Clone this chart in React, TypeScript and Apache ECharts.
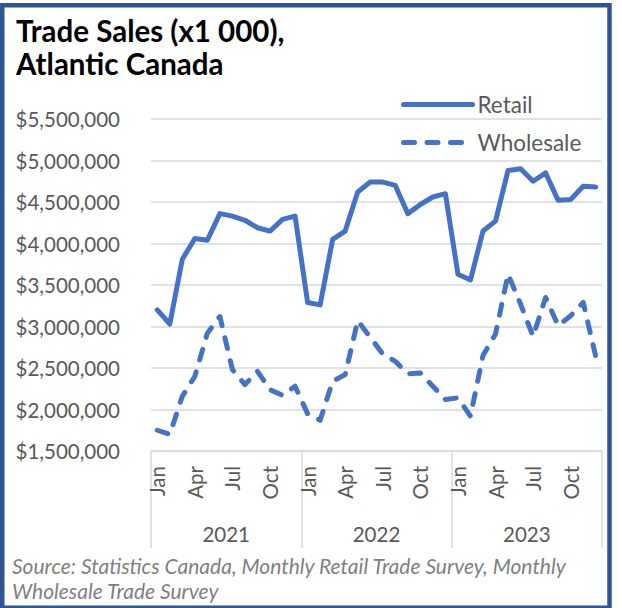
import React, { useEffect, useRef } from "react";
import * as echarts from "echarts";

const years = ["2021", "2022", "2023"];
const monthNames = ["Jan", "Feb", "Mar", "Apr", "May", "Jun", "Jul", "Aug", "Sep", "Oct", "Nov", "Dec"];
const retail = [
  3200000, 3030000, 3810000, 4060000, 4040000, 4360000, 4330000, 4280000, 4190000, 4150000, 4290000, 4330000,
  3290000, 3260000, 4050000, 4150000, 4620000, 4740000, 4740000, 4700000, 4360000, 4470000, 4560000, 4600000,
  3630000, 3560000, 4150000, 4270000, 4880000, 4900000, 4750000, 4850000, 4520000, 4530000, 4690000, 4680000,
];
const wholesale = [
  1750000, 1700000, 2160000, 2400000, 2920000, 3120000, 2480000, 2300000, 2460000, 2240000, 2170000, 2280000,
  1950000, 1870000, 2340000, 2420000, 3070000, 2870000, 2670000, 2580000, 2430000, 2440000, 2280000, 2120000,
  2140000, 1920000, 2650000, 2910000, 3630000, 3270000, 2880000, 3350000, 3010000, 3130000, 3290000, 2640000,
];
const yMin = 1500000;
const yMax = 5500000;
const yStep = 500000;
const titleText = "Trade Sales (x1 000),\nAtlantic Canada";
const sourceText = "Source: Statistics Canada, Monthly Retail Trade Survey, Monthly\nWholesale Trade Survey";

const months: string[] = [];
years.forEach(() => monthNames.forEach((m) => months.push(m)));

const FONT = "Lato, 'Open Sans', sans-serif";
const BLUE = "#4472C4";
const GRAY = "#595959";
const GRID = "#D9D9D9";

export default function App() {
  const ref = useRef<HTMLDivElement>(null);
  useEffect(() => {
    document.body.style.margin = "0";
    const chart = echarts.init(ref.current!, undefined, { renderer: "svg" });
    chart.setOption({
      animation: false,
      backgroundColor: "#ffffff",
      title: {
        text: titleText,
        left: 11,
        top: 9,
        textStyle: { fontFamily: FONT, fontSize: 29.5, fontWeight: "bold", color: "#000000", lineHeight: 33 },
      },
      legend: {
        data: ["Retail", "Wholesale"],
        orient: "vertical",
        left: 396,
        top: 88,
        itemWidth: 69,
        itemHeight: 24,
        itemGap: 15,
        textStyle: { fontFamily: FONT, fontSize: 22.5, color: GRAY },
        itemStyle: { color: "transparent", borderWidth: 0, opacity: 0 },
        lineStyle: { width: 5, cap: "round" },
      },
      grid: { left: 151, right: 20, top: 119, bottom: 157, containLabel: false },
      xAxis: [
        {
          type: "category",
          data: months,
          boundaryGap: true,
          axisLine: { show: true, lineStyle: { color: GRID, width: 1.5 } },
          axisTick: {
            show: true,
            interval: (i: number) => i % 12 === 0,
            length: 97,
            lineStyle: { color: GRID, width: 1.5 },
          },
          axisLabel: {
            interval: (i: number) => i % 3 === 0,
            rotate: 90,
            margin: 15,
            fontFamily: FONT,
            fontSize: 20.5,
            color: GRAY,
          },
        },
        {
          type: "category",
          data: years,
          position: "bottom",
          boundaryGap: true,
          axisLine: { show: false },
          axisTick: { show: false },
          splitLine: { show: false },
          axisLabel: { margin: 72, fontFamily: FONT, fontSize: 20.5, color: GRAY },
        },
      ],
      yAxis: {
        type: "value",
        min: yMin,
        max: yMax,
        interval: yStep,
        axisLine: { show: false },
        axisTick: { show: false },
        splitLine: { show: true, lineStyle: { color: GRID, width: 1.5 } },
        axisLabel: {
          margin: 31,
          fontFamily: FONT,
          fontSize: 20.5,
          color: GRAY,
          formatter: (v: number) => "$" + v.toLocaleString("en-US"),
        },
      },
      series: [
        {
          name: "Retail",
          type: "line",
          data: retail,
          xAxisIndex: 0,
          symbol: "none",
          lineStyle: { color: BLUE, width: 5, cap: "round", join: "round" },
          itemStyle: { color: BLUE },
        },
        {
          name: "Wholesale",
          type: "line",
          data: wholesale,
          xAxisIndex: 0,
          symbol: "none",
          lineStyle: { color: BLUE, width: 5, type: [11, 12.5], cap: "round", join: "round" },
          itemStyle: { color: BLUE },
        },
      ],
      graphic: [
        {
          type: "text",
          left: 12,
          top: 553,
          style: {
            text: sourceText,
            font: "italic 21px " + FONT,
            fill: "#7F7F7F",
            lineHeight: 25,
          },
        },
        {
          type: "rect",
          shape: { x: 2.25, y: 5.25, width: 607.25, height: 602.5 },
          style: { fill: "none", stroke: "#2F5597", lineWidth: 4.5 },
          silent: true,
          z: 100,
        },
      ],
    });
    return () => chart.dispose();
  }, []);
  return <div ref={ref} style={{ width: 622, height: 608 }} />;
}
